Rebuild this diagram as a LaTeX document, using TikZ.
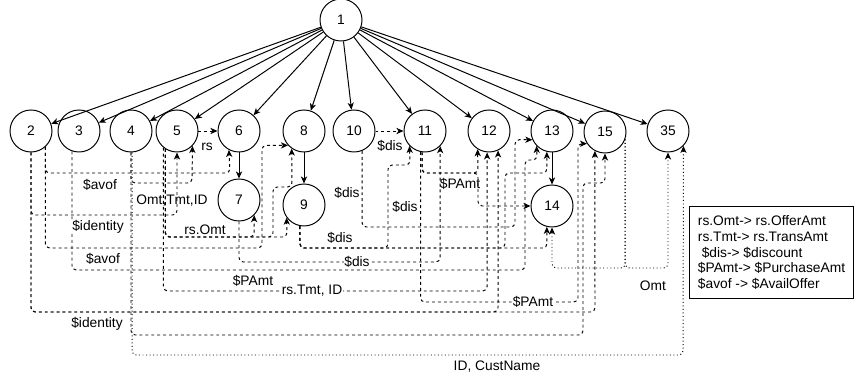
\documentclass[tikz,border=0pt]{standalone}
\usepackage{fontspec}
\setmainfont{Liberation Sans}
\usetikzlibrary{arrows.meta}

\begin{document}
\begin{tikzpicture}[x=0.025cm,y=-0.025cm,
    font=\fontsize{9.8}{11.2}\selectfont,
    vert/.style={circle,draw,line width=0.7pt,minimum size=1.05cm,inner sep=0pt},
    treearrow/.style={line width=0.7pt,-{Stealth[length=5pt,width=4.4pt,inset=1.4pt]}},
    dasharrow/.style={treearrow,dash pattern=on 2.1pt off 2.1pt,rounded corners=3pt},
    dotarrow/.style={treearrow,dash pattern=on 0.7pt off 1.8pt,rounded corners=3pt},
    lab/.style={fill=white,inner sep=0.6pt}]
    \useasboundingbox (0,0) rectangle (856,380);

    % Vertices
    \node[vert] (n1) at (341,20) {1};
    \node[vert] (n2) at (31,131) {2};
    \node[vert] (n3) at (79,131) {3};
    \node[vert] (n4) at (131,131) {4};
    \node[vert] (n5) at (177,131) {5};
    \node[vert] (n6) at (239,131) {6};
    \node[vert] (n7) at (239,200) {7};
    \node[vert] (n8) at (304,131) {8};
    \node[vert] (n9) at (304,205) {9};
    \node[vert] (n10) at (354,131) {10};
    \node[vert] (n11) at (425,131) {11};
    \node[vert] (n12) at (489,131) {12};
    \node[vert] (n13) at (552,131) {13};
    \node[vert] (n14) at (552,206) {14};
    \node[vert] (n15) at (605,132) {15};
    \node[vert] (n35) at (668,131) {35};

    % Tree edges
    \foreach \t in {2,3,4,5,6,8,10,11,12,13,15,35}
        \draw[treearrow] (n1) -- (n\t);
    \draw[treearrow] (n6) -- (n7);
    \draw[treearrow] (n8) -- (n9);
    \draw[treearrow] (n13) -- (n14);

    % Dependencies
    \draw[dasharrow] (n5) -- (n6);
    \draw[dasharrow] (n10) -- (n11);
    \draw[dasharrow] (n2.south) |- (177,215) -- (n5.south);
    \draw[dasharrow] (n2.312) |- (230,173) -- (n6.242);
    \draw[dasharrow] (n2.312) |- (262,248) |- (n8.222);
    \draw[dasharrow] (n4.south) |- (192,183) -- (n5.-44);
    \draw[dasharrow] (n5.237) |- (254,237) -- (n7.-45);
    \draw[dasharrow] (n5.237) |- (273,237) |- (292,187) -- (n8.235);
    \draw[dasharrow] (n5.237) |- (287,237) -- (n9.216);
    \draw[dasharrow] (n5.231) |- (487,291) -- (n12.265);
    \draw[dasharrow] (n2.south) |- (498,312) -- (n12.295);
    \draw[dasharrow] (n2.south) |- (595,312) -- (n15.242);
    \draw[dasharrow] (n3.251) |- (525,270) |- (537,160) -- (n13.224);
    \draw[dasharrow] (n4.south) |- (583,335) |- (605,183) -- (n15.south);
    \draw[dasharrow] (n9.259) |- (388,248) |- (410,165) -- (n11.224);
    \draw[dasharrow] (n9.259) |- (547,248) -- (n14.256);
    \draw[dasharrow] (n9.259) |- (505,248) |- (547,173) -- (n13.256);
    \draw[dasharrow] (n10.292) |- (515,227) |- (n13.204);
    \draw[dasharrow] (n7.south) |- (440,262) -- (n11.-45);
    \draw[dasharrow] (n11.262) |- (478,173) -- (n12.238);
    \draw[dasharrow] (n11.262) |- (478,173) |- (n14.west);
    \draw[dasharrow] (n11.258) |- (578,302) |- (n15.213);
    \draw[dotarrow] (n15.-20) |- (552,268) -- (n14.south);
    \draw[dotarrow] (n15.-20) |- (668,268) -- (n35.south);
    \draw[dotarrow] (n4.-87) |- (683,355) -- (n35.-44);

    % Labels
    \node[lab] (lrs) at (207,147) {rs};
    \node[lab] (ldis1) at (390,146) {\$dis};
    \node[lab] (lavof1) at (100,185) {\$avof};
    \node (lomt) at (172,201) {Omt,Tmt,ID};
    \node[lab] (ldis2) at (347,193) {\$dis};
    \node (lpamt1) at (460,184) {\$PAmt};
    \node[lab] (ldis3) at (405,207) {\$dis};
    \node[lab] (lid1) at (98,227) {\$identity};
    \node[lab] (lromt) at (205,230) {rs.Omt};
    \node[lab] (ldis4) at (340,238) {\$dis};
    \node[lab] (lavof2) at (103,259) {\$avof};
    \node[lab] (ldis5) at (357,262) {\$dis};
    \node[lab] (lpamt2) at (253,281) {\$PAmt};
    \node[lab] (lrtmt) at (312,291) {rs.Tmt, ID};
    \node[lab] (lpamt3) at (533,302) {\$PAmt};
    \node[lab] (lomt2) at (653,286) {Omt};
    \node[lab] (lid2) at (97,324) {\$identity};
    \node[lab] (lcust) at (497,367) {ID, CustName};

    % Key
    \node[draw,line width=0.7pt,anchor=north west,minimum width=4.1cm,minimum height=2.3cm,align=left] (key) at (689,206)
        {rs.Omt-> rs.OfferAmt\\rs.Tmt-> rs.TransAmt\\\ \$dis-> \$discount\\\$PAmt-> \$PurchaseAmt\\\$avof -> \$AvailOffer};
\end{tikzpicture}
\end{document}
